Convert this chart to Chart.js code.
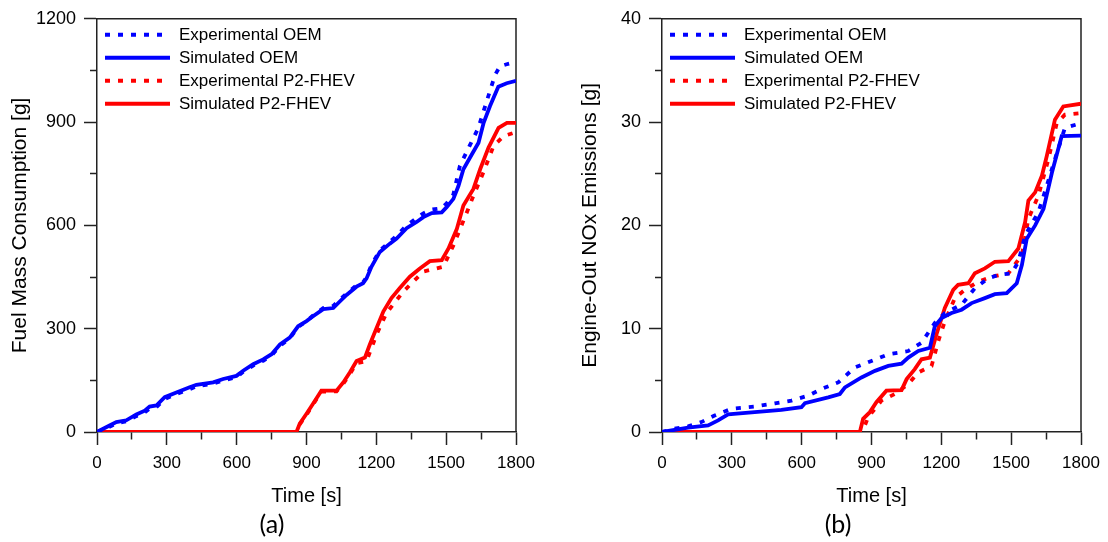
<!DOCTYPE html>
<html>
<head>
<meta charset="utf-8">
<script src="https://cdn.jsdelivr.net/npm/chart.js@4.4.1/dist/chart.umd.min.js"></script>
<style>
  html, body { margin: 0; padding: 0; background: #fff; }
  #wrap { position: relative; width: 1108px; height: 542px; overflow: hidden; }
  canvas { position: absolute; top: 0; }
  .cap { position: absolute; font-family: Lato, "Open Sans", sans-serif; font-size: 25px; color: #000; transform: translate(-50%, -50%); white-space: nowrap; }
</style>
</head>
<body>
<div id="wrap">
  <canvas id="c1" width="554" height="542" style="left:0"></canvas>
  <canvas id="c2" width="554" height="542" style="left:554px"></canvas>
  <div class="cap" style="left:272px; top:523px">(a)</div>
  <div class="cap" style="left:838px; top:523px">(b)</div>
</div>
<script>
// ---------- data ----------
const seriesNames = ['Experimental OEM', 'Simulated OEM', 'Experimental P2-FHEV', 'Simulated P2-FHEV'];
const xTickLabels = ['0', '300', '600', '900', '1200', '1500', '1800'];

// (a) Fuel mass consumption [g]
const fuelExpOemT = [0,54,83,126,169,205,226,255,291,341,398,427,499,542,599,628,671,714,750,786,828,864,900,928,972,1015,1043,1072,1115,1143,1158,1179,1215,1258,1287,1330,1373,1402,1438,1481,1502,1531,1559,1600,1638,1674,1710,1731,1760,1800];
const fuelExpOem  = [0,15,25,31,46,57,68,72,96,110,124,133,140,150,159,175,193,207,222,250,272,305,322,338,360,366,384,402,426,435,450,485,527,552,570,600,621,635,646,650,664,690,773,830,883,960,1037,1062,1068,1075];
const fuelSimOemT = [0,54,83,126,169,205,226,255,291,341,398,427,499,542,599,628,671,714,750,786,828,864,900,928,972,1015,1043,1072,1115,1143,1158,1179,1215,1258,1287,1330,1373,1402,1438,1481,1502,1531,1553,1574,1610,1639,1661,1688,1724,1760,1800];
const fuelSimOem  = [0,19,29,34,51,62,74,77,101,115,130,137,144,154,163,178,197,211,226,254,274,307,322,336,357,360,379,398,422,432,446,480,523,547,562,592,610,624,636,638,653,677,715,763,806,840,898,946,1003,1013,1020];
const fuelExpP2T  = [0,860,871,900,928,964,1029,1058,1086,1115,1158,1201,1244,1316,1402,1488,1531,1589,1617,1660,1703,1746,1800];
const fuelExpP2   = [0,0,22,50,80,117,118,140,168,200,206,283,346,408,466,480,542,638,686,754,830,859,871];
const fuelSimP2T  = [0,857,871,900,928,964,1029,1058,1086,1115,1151,1172,1201,1230,1265,1301,1344,1387,1430,1481,1510,1546,1574,1617,1646,1682,1725,1761,1800];
const fuelSimP2   = [0,0,24,53,82,120,120,144,173,206,216,254,302,350,389,418,451,475,496,499,533,590,658,706,763,826,883,898,898];

// (b) Engine-out NOx emissions [g]
const noxExpOemT = [0,54,112,169,226,298,398,485,556,628,685,757,828,900,972,1058,1115,1172,1215,1287,1344,1402,1445,1502,1531,1560,1617,1653,1688,1731,1800];
const noxExpOem  = [0,0.32,0.54,0.96,1.6,2.24,2.46,2.78,3.04,3.52,4.16,4.8,6.24,6.88,7.52,7.84,8.64,10.56,11.52,12.32,13.92,14.88,15.2,15.36,16.48,19.04,21.28,23.84,26.4,29.44,29.9];
const noxSimOemT = [0,112,198,241,284,398,513,599,614,714,764,786,857,915,972,1029,1058,1101,1151,1172,1201,1244,1287,1330,1387,1430,1481,1524,1546,1567,1603,1639,1675,1717,1800];
const noxSimOem  = [0,0.42,0.64,1.12,1.70,1.92,2.14,2.40,2.78,3.36,3.68,4.32,5.28,5.92,6.40,6.62,7.20,7.84,8.16,10.24,11.04,11.52,11.84,12.48,12.96,13.34,13.44,14.40,16.16,18.72,20.0,21.6,25.1,28.64,28.7];
const noxExpP2T  = [0,860,886,943,1000,1058,1101,1158,1187,1215,1258,1301,1359,1416,1488,1546,1574,1617,1660,1696,1731,1800];
const noxExpP2   = [0,0,1.44,3.04,3.68,4.64,5.76,6.4,8.8,10.72,12.96,13.76,14.56,15.04,15.36,17.12,20.64,22.88,26.4,29.92,30.72,30.88];
const noxSimP2T  = [0,850,864,893,921,964,1029,1051,1086,1115,1151,1179,1215,1251,1272,1316,1344,1387,1430,1488,1531,1560,1574,1603,1632,1653,1688,1724,1800];
const noxSimP2   = [0,0,1.28,1.92,2.88,4.0,4.06,5.12,6.08,7.04,7.2,9.44,12.0,13.76,14.24,14.4,15.36,15.84,16.48,16.54,17.76,20.32,22.4,23.2,24.8,26.72,30.24,31.52,31.78];

// ---------- styling ----------
const BLUE = '#0000ff', RED = '#ff0000';
const AXIS = '#222222';
const DOT = [5, 8];
const LW = 3.8;
const seriesStyle = [
  { color: BLUE, dash: DOT },
  { color: BLUE, dash: [] },
  { color: RED,  dash: DOT },
  { color: RED,  dash: [] }
];
const FAM = '"Liberation Sans", Arial, sans-serif';
const xTickFont = { family: FAM, size: 17 };
const yTickFont = { family: FAM, size: 18 };
const xTitleFont = { family: FAM, size: 20 };
const yTitleFont = { family: FAM, size: 21 };

function pts(t, v) { return t.map((x, i) => ({ x: x, y: v[i] })); }

const boxPlugin = {
  id: 'box',
  beforeDatasetsDraw(chart) {
    const { ctx, chartArea: a } = chart;
    ctx.save();
    ctx.strokeStyle = AXIS;
    ctx.lineWidth = 1.5;
    ctx.beginPath();
    ctx.moveTo(a.left, a.top);
    ctx.lineTo(a.right, a.top);
    ctx.lineTo(a.right, a.bottom);
    ctx.stroke();
    ctx.restore();
  }
};

const legendPlugin = {
  id: 'inlegend',
  afterDraw(chart) {
    const { ctx, chartArea: a } = chart;
    ctx.save();
    ctx.font = '17px ' + FAM;
    ctx.textBaseline = 'middle';
    ctx.fillStyle = '#000';
    chart.data.datasets.forEach((ds, i) => {
      const y = a.top + 16 + i * 23;
      ctx.strokeStyle = ds.borderColor;
      ctx.lineWidth = 4;
      ctx.setLineDash(ds.borderDash || []);
      ctx.beginPath();
      ctx.moveTo(a.left + 8, y);
      ctx.lineTo(a.left + 73, y);
      ctx.stroke();
      ctx.setLineDash([]);
      ctx.fillText(ds.label, a.left + 82, y + 1);
    });
    ctx.restore();
  }
};

function makeChart(id, seriesT, seriesV, ymax, ystep, yTitle, yWidth, yTitlePad, padRight, padTop) {
  const datasets = seriesNames.map((name, i) => ({
    label: name,
    data: pts(seriesT[i], seriesV[i]),
    borderColor: seriesStyle[i].color,
    borderDash: seriesStyle[i].dash,
    borderWidth: LW,
    pointRadius: 0,
    tension: 0,
    fill: false
  }));
  return new Chart(document.getElementById(id), {
    type: 'line',
    data: { datasets },
    options: {
      responsive: false,
      animation: false,
      devicePixelRatio: 1,
      layout: { padding: { left: 0, top: padTop, right: padRight, bottom: 0 } },
      plugins: { legend: { display: false }, tooltip: { enabled: false } },
      scales: {
        x: {
          type: 'linear', min: 0, max: 1800,
          ticks: {
            stepSize: 150, autoSkip: false, maxRotation: 0, padding: 8,
            color: '#000', font: xTickFont,
            callback: (v) => (v % 300 === 0 ? xTickLabels[v / 300] : '')
          },
          grid: {
            drawOnChartArea: false, drawTicks: true, tickLength: 13,
            tickColor: AXIS, tickWidth: 1.5,
            tickBorderDash: (c) => (c.tick && c.tick.value % 300 !== 0 ? [7, 50] : [])
          },
          border: { display: true, color: AXIS, width: 1.5 },
          title: { display: true, text: 'Time [s]', color: '#000', font: xTitleFont, padding: { top: 0, bottom: 34 } },
          afterFit: (s) => { s.height = 110; }
        },
        y: {
          type: 'linear', min: 0, max: ymax,
          ticks: {
            stepSize: ystep / 2, autoSkip: false, padding: 8,
            color: '#000', font: yTickFont,
            callback: (v) => (Math.abs(v % ystep) < 1e-9 ? String(v) : '')
          },
          grid: {
            drawOnChartArea: false, drawTicks: true, tickLength: 13,
            tickColor: AXIS, tickWidth: 1.5,
            tickBorderDash: (c) => (c.tick && Math.abs(c.tick.value % ystep) > 1e-9 ? [0, 6, 7, 50] : [])
          },
          border: { display: true, color: AXIS, width: 1.5 },
          title: { display: true, text: yTitle, color: '#000', font: yTitleFont, padding: { top: yTitlePad, bottom: 0 } },
          afterFit: (s) => { s.width = yWidth; }
        }
      }
    },
    plugins: [boxPlugin, legendPlugin]
  });
}

makeChart('c1',
  [fuelExpOemT, fuelSimOemT, fuelExpP2T, fuelSimP2T],
  [fuelExpOem, fuelSimOem, fuelExpP2, fuelSimP2],
  1200, 300, 'Fuel Mass Consumption [g]', 97, 8, 38, 16);

makeChart('c2',
  [noxExpOemT, noxSimOemT, noxExpP2T, noxSimP2T],
  [noxExpOem, noxSimOem, noxExpP2, noxSimP2],
  40, 10, 'Engine-Out NOx Emissions [g]', 108, 24, 27, 16);
</script>
</body>
</html>
